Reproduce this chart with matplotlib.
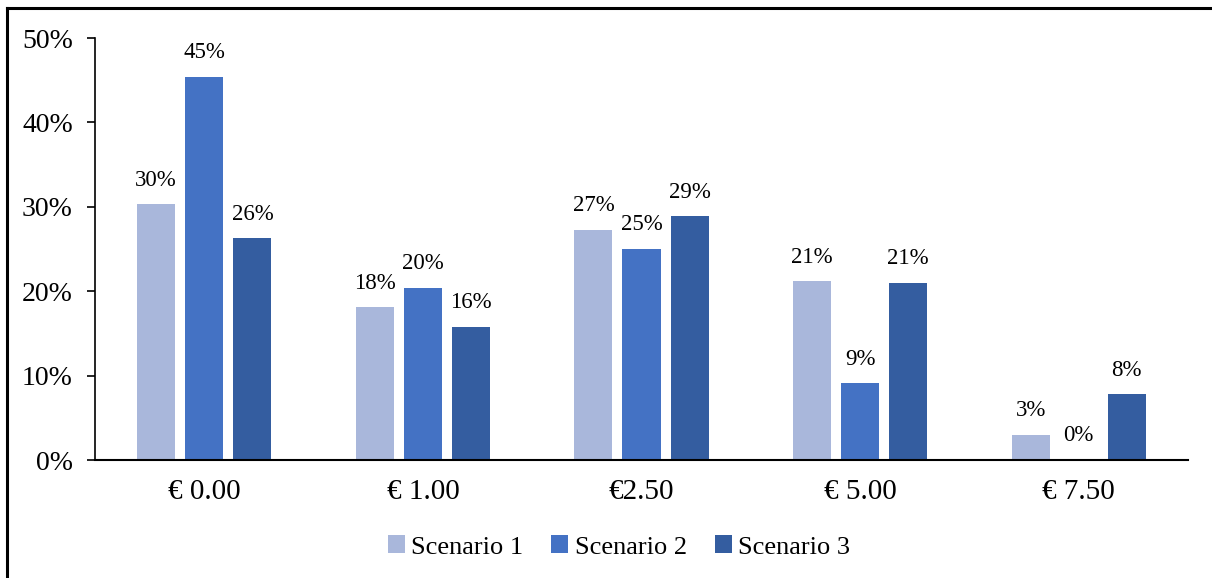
import numpy as np
import matplotlib.pyplot as plt
from matplotlib.lines import Line2D

plt.rcParams['font.family'] = ['Liberation Serif', 'DejaVu Serif']

categories = ["€ 0.00", "€ 1.00", "€2.50", "€ 5.00", "€ 7.50"]
series_names = ["Scenario 1", "Scenario 2", "Scenario 3"]
scenario1 = [30.3, 18.1, 27.3, 21.2, 3.0]
scenario2 = [45.4, 20.4, 25.0, 9.1, 0.0]
scenario3 = [26.3, 15.8, 28.9, 21.0, 7.8]
colors = ["#A9B7DB", "#4472C4", "#345DA0"]

fig = plt.figure(figsize=(12.12, 5.78), dpi=100)
ax = fig.add_axes([95/1212, 118/578, 1093/1212, 422/578])

x = np.arange(len(categories))
width = 0.174
step = 0.22
for i, (vals, name, c) in enumerate(zip([scenario1, scenario2, scenario3], series_names, colors)):
    pos = x + (i - 1) * step
    ax.bar(pos, vals, width, color=c, label=name, zorder=2)
    for p, v in zip(pos, vals):
        ax.text(p, v + 1.6, f"{v:.0f}%", ha="center", va="bottom", fontsize=16.5)

ax.set_xlim(-0.5, len(categories) - 0.5)
ax.set_ylim(0, 50)
ax.set_yticks(np.arange(0, 51, 10))
ax.set_yticklabels([f"{t}%" for t in range(0, 51, 10)], fontsize=20)
ax.set_xticks(x)
ax.set_xticklabels(categories, fontsize=21)
ax.tick_params(axis="x", length=0, pad=14)
ax.tick_params(axis="y", length=6, width=1.2, direction="out", pad=10)
for s in ["top", "right"]:
    ax.spines[s].set_visible(False)
ax.spines["left"].set_linewidth(1.2)
ax.spines["bottom"].set_linewidth(1.5)

ax.legend(loc="center", bbox_to_anchor=(619/1212, 1 - 547/578), bbox_transform=fig.transFigure,
          ncol=3, frameon=False, fontsize=19, handlelength=0.65, handleheight=0.65,
          handletextpad=0.25, columnspacing=1.05)

# outer frame, left and top edges only
fig.add_artist(Line2D([7/1212, 7/1212], [0, 1 - 8/578], color="black", lw=2.2, transform=fig.transFigure))
fig.add_artist(Line2D([7/1212, 1], [1 - 8/578, 1 - 8/578], color="black", lw=2.2, transform=fig.transFigure))

fig.savefig("out.png", dpi=100)
